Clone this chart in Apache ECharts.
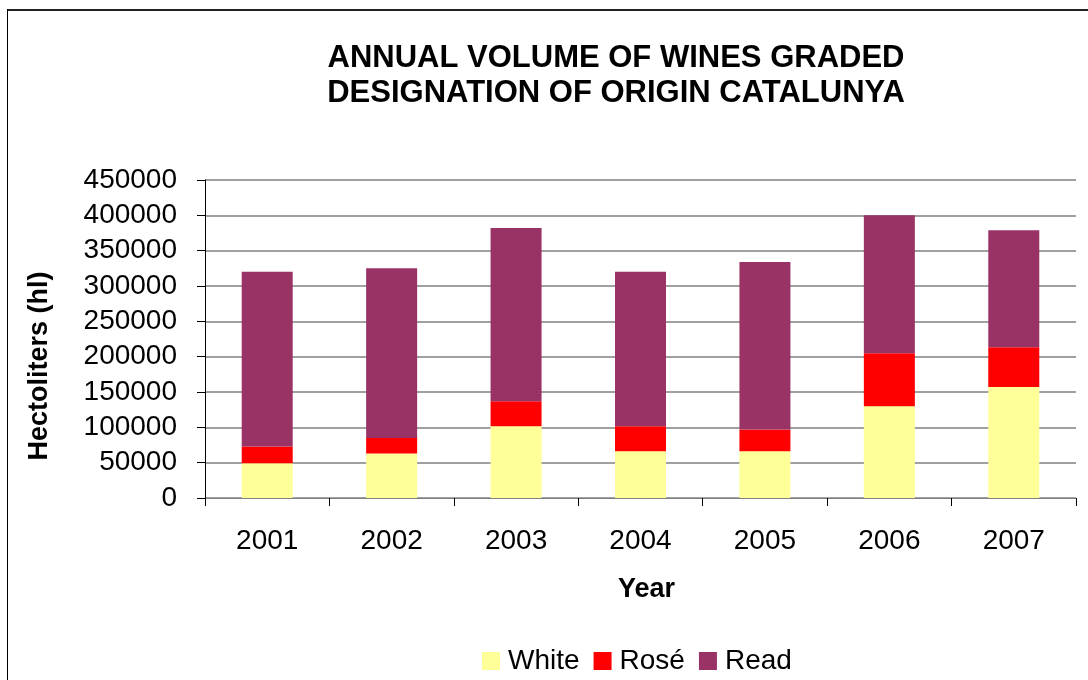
<!DOCTYPE html>
<html>
<head>
<meta charset="utf-8">
<script src="https://cdn.jsdelivr.net/npm/echarts@6/dist/echarts.min.js"></script>
<style>html,body{margin:0;padding:0;background:#fff;}#c{width:1088px;height:680px;}</style>
</head>
<body>
<div id="c"></div>
<script>
var years = ['2001', '2002', '2003', '2004', '2005', '2006', '2007'];
var white = [49000, 63000, 101500, 66000, 66000, 130000, 157000];
var rose = [24000, 22000, 35500, 35500, 31000, 75000, 56500];
var read = [247000, 240000, 245000, 218500, 237000, 195000, 165500];
var seriesNames = ['White', 'Rosé', 'Read'];
var titleLines = ['ANNUAL VOLUME OF WINES GRADED', 'DESIGNATION OF ORIGIN CATALUNYA'];
var yAxisTitle = 'Hectoliters (hl)';
var xAxisTitle = 'Year';

var FONT = "'Liberation Sans', Arial, sans-serif";
var chart = echarts.init(document.getElementById('c'));
chart.setOption({
  backgroundColor: '#fff',
  animation: false,
  title: {
    text: titleLines.join('\n'),
    left: 611,
    top: 36,
    textAlign: 'center',
    textStyle: { fontFamily: FONT, fontSize: 31, fontWeight: 'bold', color: '#000', lineHeight: 35 }
  },
  legend: {
    data: seriesNames,
    top: 642,
    left: 477,
    itemWidth: 18,
    itemHeight: 18,
    itemGap: 14,
    icon: 'rect',
    textStyle: { fontFamily: FONT, fontSize: 28, color: '#000', padding: [0, 0, 0, 3] }
  },
  grid: { left: 205, right: 12, top: 180, bottom: 182, containLabel: false },
  xAxis: {
    type: 'category',
    data: years,
    name: xAxisTitle,
    nameLocation: 'middle',
    nameGap: 78,
    nameTextStyle: { fontFamily: FONT, fontSize: 27, fontWeight: 'bold', color: '#000', padding: [0, 0, 0, 12] },
    axisLine: { lineStyle: { color: '#808080', width: 1 } },
    axisTick: { show: true, length: 8, lineStyle: { color: '#000' } },
    axisLabel: { fontFamily: FONT, fontSize: 28, color: '#000', margin: 29 },
    splitLine: { show: false }
  },
  yAxis: {
    type: 'value',
    min: 0,
    max: 450000,
    interval: 50000,
    axisLine: { show: true, lineStyle: { color: '#000', width: 1 } },
    axisTick: { show: true, length: 8, lineStyle: { color: '#000' } },
    axisLabel: { fontFamily: FONT, fontSize: 28, color: '#000', margin: 28, formatter: function (v) { return String(v); } },
    splitLine: { show: true, lineStyle: { color: '#808080', width: 1.5 } }
  },
  graphic: [
    { type: 'line', shape: { x1: 7, y1: 10, x2: 1200, y2: 10 }, style: { stroke: '#222', lineWidth: 2 } },
    { type: 'line', shape: { x1: 7.5, y1: 9, x2: 7.5, y2: 700 }, style: { stroke: '#000', lineWidth: 1 } },
    {
      type: 'text',
      x: 40,
      y: 366,
      rotation: Math.PI / 2,
      style: {
        text: yAxisTitle,
        fontFamily: FONT,
        fontSize: 27,
        fontWeight: 'bold',
        fill: '#000',
        textAlign: 'center',
        textVerticalAlign: 'middle'
      }
    }
  ],
  series: [
    { name: seriesNames[0], type: 'bar', stack: 'total', data: white, barWidth: 51, itemStyle: { color: '#FFFF99' } },
    { name: seriesNames[1], type: 'bar', stack: 'total', data: rose, barWidth: 51, itemStyle: { color: '#FF0000' } },
    { name: seriesNames[2], type: 'bar', stack: 'total', data: read, barWidth: 51, itemStyle: { color: '#993366' } }
  ]
});
</script>
</body>
</html>
